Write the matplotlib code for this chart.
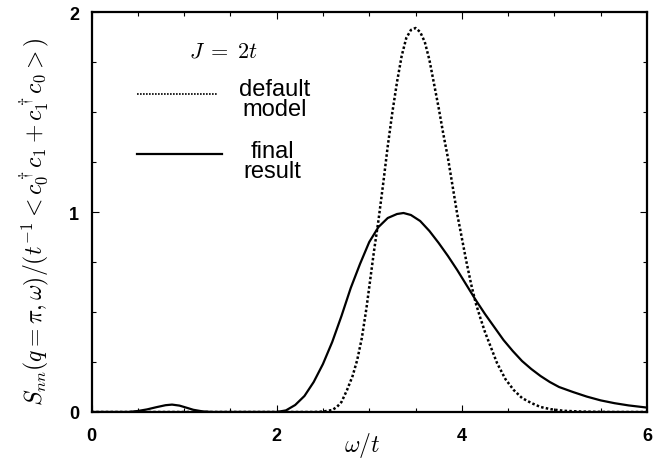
import numpy as np
import matplotlib
matplotlib.use('Agg')
import matplotlib.pyplot as plt
from matplotlib.ticker import MultipleLocator

plt.rcParams['mathtext.fontset'] = 'cm'
plt.rcParams['font.family'] = ['Liberation Sans', 'DejaVu Sans']

# final result
w_final = [0.0, 0.4, 0.5, 0.6, 0.7, 0.8, 0.87, 0.95, 1.03, 1.1, 1.2, 1.3,
           2.0, 2.1, 2.2, 2.3, 2.4, 2.5, 2.6, 2.7, 2.8, 2.9, 3.0, 3.1,
           3.2, 3.3, 3.37, 3.45, 3.55, 3.65, 3.75, 3.85, 3.95, 4.05, 4.15,
           4.25, 4.35, 4.45, 4.55, 4.65, 4.75, 4.85, 4.95, 5.05, 5.2, 5.35,
           5.5, 5.65, 5.8, 6.0]
s_final = [0.0, 0.0, 0.005, 0.013, 0.024, 0.034, 0.037, 0.032, 0.021, 0.011, 0.003, 0.0,
           0.0, 0.008, 0.035, 0.08, 0.15, 0.24, 0.35, 0.48, 0.62, 0.74, 0.85, 0.925,
           0.97, 0.99, 0.995, 0.985, 0.955, 0.905, 0.845, 0.78, 0.71, 0.635, 0.56,
           0.49, 0.425, 0.36, 0.305, 0.255, 0.215, 0.18, 0.15, 0.125, 0.1, 0.077,
           0.058, 0.044, 0.033, 0.022]

# default model
w_default = [0.0, 2.4, 2.5, 2.6, 2.65, 2.7, 2.76, 2.82, 2.87, 2.92, 2.97, 3.01,
             3.05, 3.1, 3.15, 3.2, 3.25, 3.3, 3.35, 3.4, 3.45, 3.5, 3.55, 3.6,
             3.65, 3.7, 3.75, 3.8, 3.85, 3.9, 3.95, 4.0, 4.05, 4.1, 4.15, 4.2,
             4.25, 4.3, 4.38, 4.47, 4.56, 4.65, 4.75, 4.85, 4.96, 5.1, 5.3, 5.6, 6.0]
s_default = [0.0, 0.0, 0.002, 0.01, 0.025, 0.05, 0.11, 0.18, 0.26, 0.37, 0.52, 0.66,
             0.8, 0.96, 1.14, 1.33, 1.5, 1.65, 1.78, 1.87, 1.91, 1.92, 1.9, 1.85,
             1.76, 1.64, 1.52, 1.39, 1.27, 1.13, 0.99, 0.87, 0.75, 0.64, 0.545, 0.47,
             0.4, 0.34, 0.245, 0.165, 0.11, 0.07, 0.045, 0.025, 0.014, 0.006, 0.002, 0.0, 0.0]

W, H = 668, 460
fig = plt.figure(figsize=(W/100, H/100), dpi=100)
ax = fig.add_axes([91.5/W, 1-413/H, 555.5/W, 400/H])

ax.plot(w_default, s_default, color='black', lw=1.8, linestyle=(0, (1, 0.9)))
ax.plot(w_final, s_final, color='black', lw=1.6)

ax.set_xlim(0, 6)
ax.set_ylim(0, 2)
ax.xaxis.set_major_locator(MultipleLocator(2))
ax.xaxis.set_minor_locator(MultipleLocator(0.5))
ax.yaxis.set_major_locator(MultipleLocator(1))
ax.yaxis.set_minor_locator(MultipleLocator(0.25))
ax.tick_params(which='both', direction='in', top=True, right=True, width=0.8)
ax.tick_params(which='major', length=5)
ax.tick_params(which='minor', length=3)
ax.tick_params(axis='x', pad=11)
ax.tick_params(axis='y', pad=9)
for lab in ax.get_xticklabels() + ax.get_yticklabels():
    lab.set_fontsize(13)
    lab.set_fontweight('bold')
for sp in ax.spines.values():
    sp.set_linewidth(1.6)

ax.text((362-91.5)/555.5, (413-446)/400, r'$\omega/t$', transform=ax.transAxes,
        ha='center', va='center', fontsize=17)
fig.text(35/W, 1-222/H,
         r'$S_{nn}(q=\pi,\omega)/(t^{-1} < c_0^\dagger c_1 + c_1^\dagger c_0 >)$',
         rotation=90, ha='center', va='center', fontsize=17)

# legend drawn by hand
fig.text(223/W, 1-52/H, r'$J\;=\;2t$', ha='center', va='center', fontsize=16)
fig.add_artist(plt.Line2D([137/W, 218/W], [1-95/H, 1-95/H], color='black',
                          lw=1.2, linestyle=(0, (1, 0.8))))
fig.add_artist(plt.Line2D([137/W, 222/W], [1-155/H, 1-155/H], color='black', lw=1.6))
fig.text(275/W, 1-100/H, 'default\nmodel', ha='center', va='center',
         fontsize=17, linespacing=0.9)
fig.text(272/W, 1-162/H, 'final\nresult', ha='center', va='center',
         fontsize=17, linespacing=0.9)

fig.savefig('out.png', dpi=100)
